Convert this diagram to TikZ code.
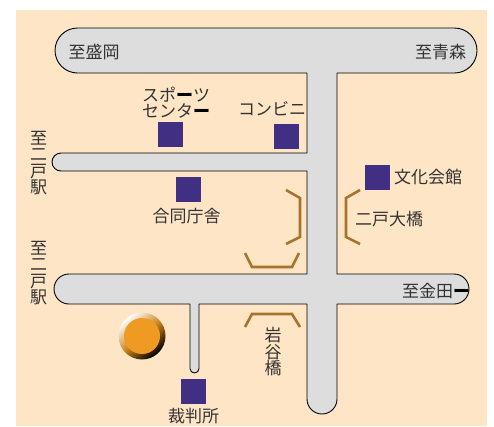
\documentclass[tikz,border=0pt]{standalone}
\usepackage{fontspec}
\setmainfont{Noto Sans CJK JP}
\definecolor{paper}{HTML}{FEE5C5}
\definecolor{road}{HTML}{DDDDDD}
\definecolor{place}{HTML}{412F83}
\definecolor{bridge}{HTML}{A5752E}
\definecolor{spot}{HTML}{EF9A22}
\definecolor{ink}{HTML}{333333}
\tikzset{
  roadline/.style={draw=black,line width=0.9pt,fill=road,line join=round},
  placebox/.style={fill=place,draw=none,minimum size=25pt,inner sep=0pt,outer sep=0pt},
  bridgeline/.style={draw=bridge,line width=2.6pt,line join=miter},
  lbl/.style={font=\fontsize{17}{16.5}\selectfont,text=ink,inner sep=0pt,outer sep=0pt,align=center},
}
\newcommand{\dash}{{\bfseries\color{black}ー}}
\begin{document}
\begin{tikzpicture}[x=1pt,y=-1pt]
\useasboundingbox (0,0) rectangle (494,426);
\fill[paper] (16,10) rectangle (487,426);
% roads
\draw[roadline] (77.5,28) -- (454.5,28) arc[start angle=-90,end angle=90,radius=22.5]
  -- (337,73) -- (337,274) -- (454,274) arc[start angle=-90,end angle=90,radius=15]
  -- (337,304) -- (337,399) arc[start angle=0,end angle=180,radius=15]
  -- (307,304) -- (199,304) -- (199,368.5) arc[start angle=0,end angle=180,radius=4.5]
  -- (190,304) -- (69,304) arc[start angle=90,end angle=270,radius=15]
  -- (307,274) -- (307,171) -- (61,171) arc[start angle=90,end angle=270,radius=9]
  -- (307,153) -- (307,73) -- (77.5,73) arc[start angle=90,end angle=270,radius=22.5] -- cycle;
% bridges
\draw[bridgeline] (286,190) -- (300,198) -- (300,237) -- (286,244);
\draw[bridgeline] (360,190) -- (346,198) -- (346,237) -- (360,244);
\draw[bridgeline] (245,253) -- (252,267) -- (292,267) -- (299,253);
\draw[bridgeline] (245,327) -- (252,314) -- (292,314) -- (300,327);
% places
\node[placebox] (sports) at (170.5,134.5) {};
\node[placebox] (conv) at (286.5,136.5) {};
\node[placebox] (bunka) at (377.5,177.5) {};
\node[placebox] (godo) at (188.5,189.5) {};
\node[placebox] (court) at (193.5,391.5) {};
% marker
\shade[top color=white,bottom color=black,middle color=spot!85!black,shading angle=40] (142,336) circle[radius=23.5];
\fill[spot] (142,336) circle[radius=18];
% labels
\node[lbl] (l1) at (94,52) {至盛岡};
\node[lbl] (l2) at (440.5,52) {至青森};
\node[lbl] (l3) at (176,102.5) {スポ\dash ツ\\センタ\dash};
\node[lbl] (l4) at (272,109) {コンビニ};
\node[lbl] (l5) at (428,177) {文化会館};
\node[lbl] (l6) at (389,219) {二戸大橋};
\node[lbl] (l7) at (186.5,216) {合同庁舎};
\node[lbl] (l8) at (38.5,163) {至\\二\\戸\\駅};
\node[lbl] (l9) at (38.5,273) {至\\二\\戸\\駅};
\node[lbl] (l10) at (273,352) {岩\\谷\\橋};
\node[lbl] (l11) at (436,291) {至金田\dash};
\node[lbl] (l12) at (193.5,416) {裁判所};
\end{tikzpicture}
\end{document}
